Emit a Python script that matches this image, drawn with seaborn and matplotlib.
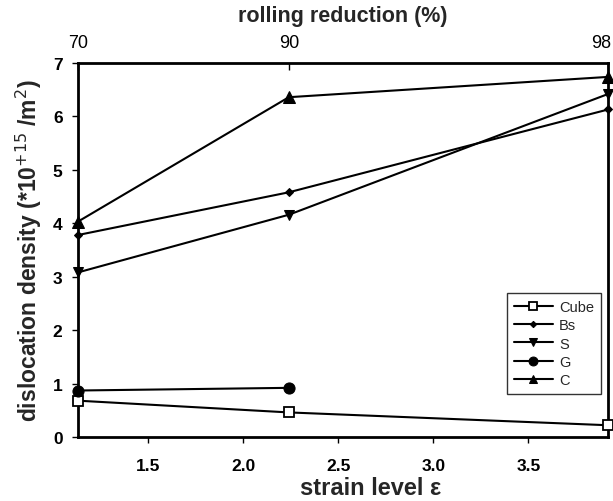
import numpy as np
import pandas as pd
import matplotlib
matplotlib.use("Agg")
import matplotlib.pyplot as plt
import matplotlib.transforms as mtransforms
import seaborn as sns

# ---- data ----
strain = [1.13, 2.24, 3.92]
reduction_labels = ["70", "90", "98"]
cube = [0.68, 0.46, 0.22]
bs = [3.78, 4.58, 6.13]
s_vals = [3.08, 4.16, 6.42]
g_strain = [1.13, 2.24]
g_vals = [0.87, 0.92]
c_vals = [4.03, 6.36, 6.74]

sns.set_theme(style="white")
plt.rcParams['font.family'] = ['Liberation Sans', 'DejaVu Sans']

fig = plt.figure(figsize=(6.13, 5.02), dpi=100)
ax = fig.add_axes([0.127, 0.1275, 0.865, 0.745])

series = [
    ("Cube", strain, cube, dict(marker="s", markerfacecolor="white", markersize=7, markeredgewidth=1.3)),
    ("Bs", strain, bs, dict(marker="D", markerfacecolor="black", markersize=4)),
    ("S", strain, s_vals, dict(marker="v", markerfacecolor="black", markersize=7)),
    ("G", g_strain, g_vals, dict(marker="o", markerfacecolor="black", markersize=8)),
    ("C", strain, c_vals, dict(marker="^", markerfacecolor="black", markersize=8)),
]
for name, xs, ys, kw in series:
    df = pd.DataFrame({"x": xs, "y": ys})
    sns.lineplot(data=df, x="x", y="y", ax=ax, color="black", linewidth=1.5,
                 markeredgecolor="black", label=name, clip_on=False, zorder=3, **kw)

ax.set_xlim(1.13, 3.92)
ax.set_ylim(0, 7)
ax.set_xticks([1.5, 2.0, 2.5, 3.0, 3.5])
ax.set_xticklabels(["1.5", "2.0", "2.5", "3.0", "3.5"])
ax.set_yticks(range(0, 8))
for sp in ax.spines.values():
    sp.set_linewidth(2)
    sp.set_color("black")
ax.tick_params(axis="both", which="both", direction="out", length=4, width=1,
               labelsize=12.5, colors="black", bottom=True, left=True, pad=7)
ax.tick_params(axis="x", pad=11)
for lab in ax.get_xticklabels() + ax.get_yticklabels():
    lab.set_fontweight("bold")
ax.set_xlabel("strain level ε", fontsize=17, fontweight="bold", labelpad=3)
ax.xaxis.set_label_coords(0.553, -0.105)
ax.set_ylabel("dislocation density (*10$^{+15}$ /m$^2$)", fontsize=16.5, fontweight="bold", labelpad=6)

top = ax.twiny()
top.set_xlim(ax.get_xlim())
top.set_xticks(strain)
top.set_xticklabels(reduction_labels)
top.tick_params(axis="x", direction="in", length=5, width=1, labelsize=13, pad=9, colors="black")
top.set_xlabel("rolling reduction (%)", fontsize=15.5, fontweight="bold", labelpad=9)
for sp in top.spines.values():
    sp.set_visible(False)
shift = mtransforms.ScaledTranslation(-7 / 100, 0, fig.dpi_scale_trans)
lbl98 = top.get_xticklabels()[-1]
lbl98.set_transform(lbl98.get_transform() + shift)

leg = ax.legend(loc="upper left", bbox_to_anchor=(0.796, 0.404), frameon=True, fontsize=10.5,
                handlelength=2.7, handletextpad=0.4, labelspacing=0.3, borderpad=0.45,
                fancybox=False, edgecolor="black", markerscale=0.8)
leg.get_frame().set_linewidth(1)

fig.savefig("out.png", dpi=100)
